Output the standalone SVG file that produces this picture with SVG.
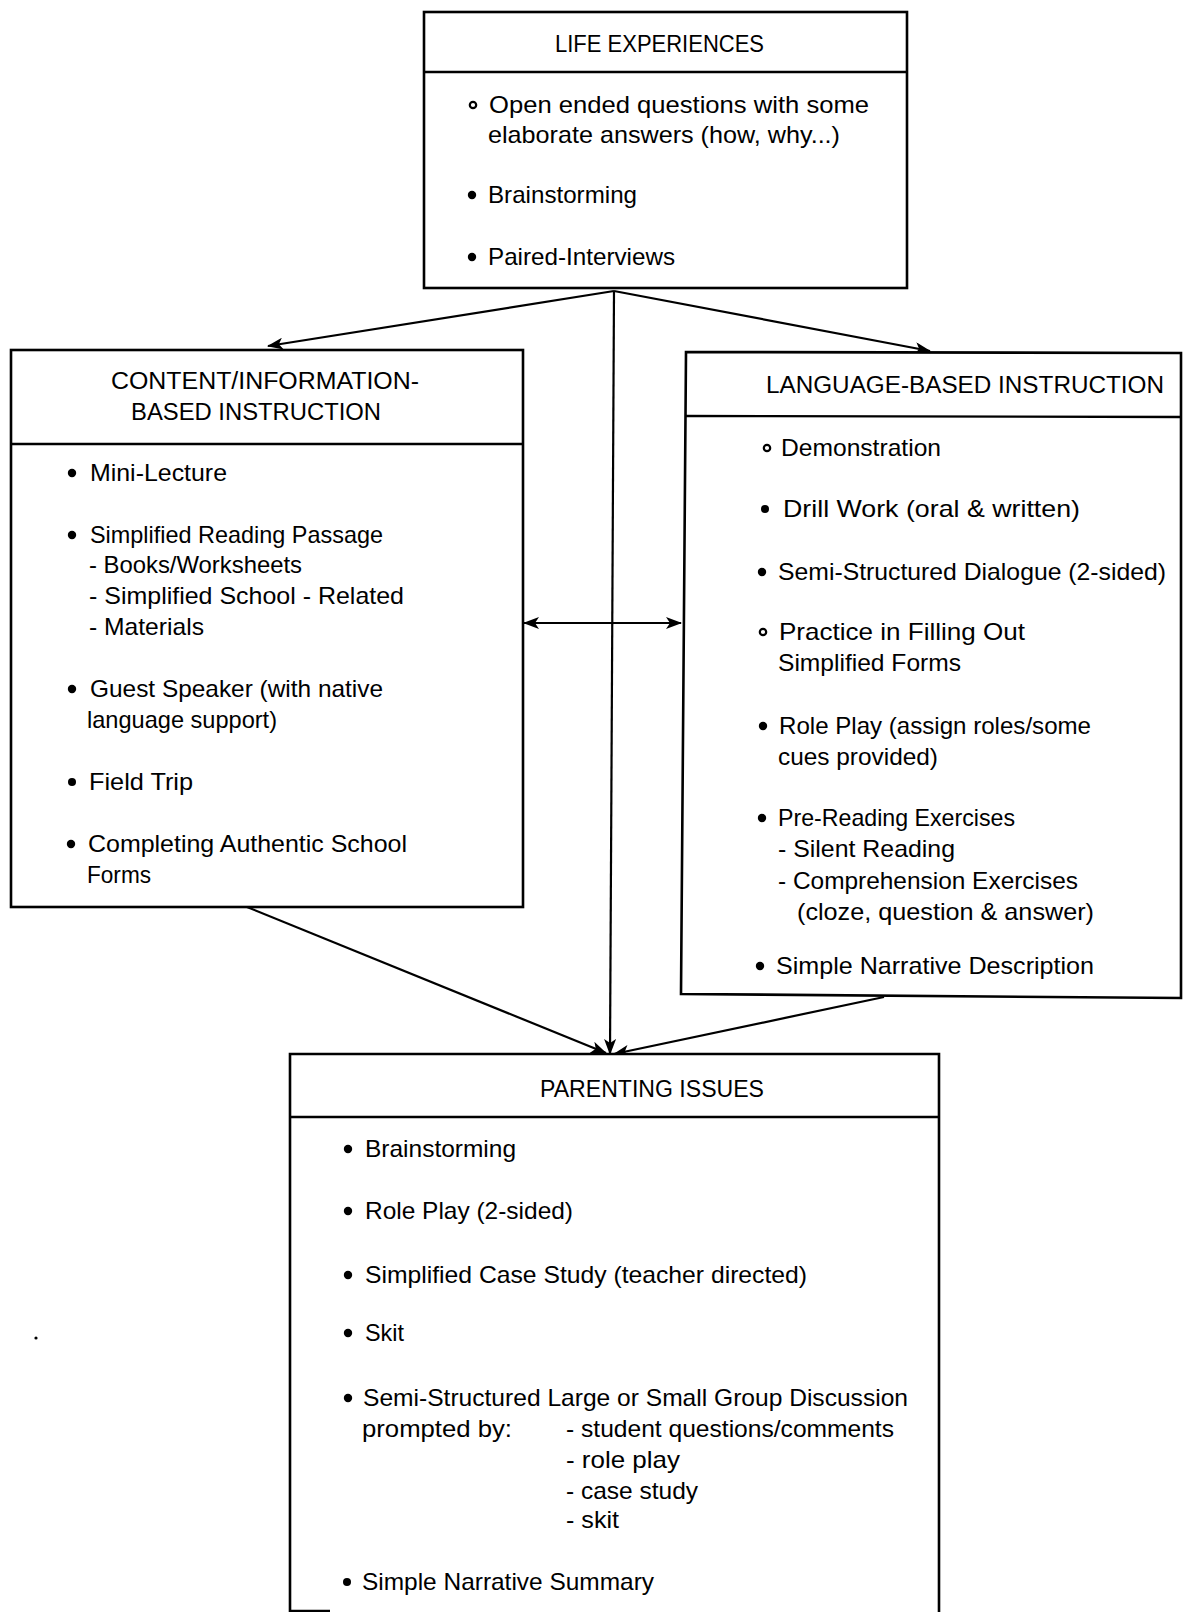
<svg xmlns="http://www.w3.org/2000/svg" width="1184" height="1612" viewBox="0 0 1184 1612">
<defs>
<marker id="ah" markerUnits="userSpaceOnUse" markerWidth="16" markerHeight="12" refX="15" refY="6" orient="auto-start-reverse">
<path d="M0,0 L16,6 L0,12 L4,6 z" fill="#000"/>
</marker>
<style>
.box{fill:#fff;stroke:#000;stroke-width:2.6}
.div{stroke:#000;stroke-width:2.4;fill:none}
.t{font-family:"Liberation Sans",Arial,sans-serif;font-size:24px;fill:#000}
.h{font-family:"Liberation Sans",Arial,sans-serif;font-size:23px;fill:#000}
.b{fill:#000}
.r{fill:none;stroke:#000;stroke-width:2.2}
.conn{stroke:#000;stroke-width:2.2;fill:none}
</style>
</defs>
<rect width="1184" height="1612" fill="#fff"/>

<g id="connectors">
<path class="conn" d="M614,291 L268,346" marker-end="url(#ah)"/>
<path class="conn" d="M614,291 L930,351" marker-end="url(#ah)"/>
<path class="conn" d="M614,291 L610,1054" marker-end="url(#ah)"/>
<path class="conn" d="M247,907 L606,1053" marker-end="url(#ah)"/>
<path class="conn" d="M884,997 L614,1054" marker-end="url(#ah)"/>
<path class="conn" d="M524,623 L681,623" marker-start="url(#ah)" marker-end="url(#ah)"/>
</g>

<g id="life-experiences">
<rect class="box" x="424" y="12" width="483" height="276"/>
<line class="div" x1="424" y1="72" x2="907" y2="72"/>
<text class="h" x="555" y="52" textLength="209" lengthAdjust="spacingAndGlyphs">LIFE EXPERIENCES</text>
<circle class="r" cx="473" cy="105" r="3.2"/>
<text class="t" x="489" y="113" textLength="380" lengthAdjust="spacingAndGlyphs">Open ended questions with some</text>
<text class="t" x="488" y="143" textLength="352" lengthAdjust="spacingAndGlyphs">elaborate answers (how, why...)</text>
<circle class="b" cx="472" cy="195" r="4.2"/>
<text class="t" x="488" y="203" textLength="149" lengthAdjust="spacingAndGlyphs">Brainstorming</text>
<circle class="b" cx="472" cy="257" r="4.2"/>
<text class="t" x="488" y="265" textLength="187" lengthAdjust="spacingAndGlyphs">Paired-Interviews</text>
</g>

<g id="content-information">
<rect class="box" x="11" y="350" width="512" height="557"/>
<line class="div" x1="11" y1="444" x2="523" y2="444"/>
<text class="h" x="111" y="389" textLength="308" lengthAdjust="spacingAndGlyphs">CONTENT/INFORMATION-</text>
<text class="h" x="131" y="420" textLength="250" lengthAdjust="spacingAndGlyphs">BASED INSTRUCTION</text>
<circle class="b" cx="72" cy="473" r="4.2"/>
<text class="t" x="90" y="481" textLength="137" lengthAdjust="spacingAndGlyphs">Mini-Lecture</text>
<circle class="b" cx="72" cy="535" r="4.2"/>
<text class="t" x="90" y="543" textLength="293" lengthAdjust="spacingAndGlyphs">Simplified Reading Passage</text>
<text class="t" x="89" y="573" textLength="213" lengthAdjust="spacingAndGlyphs">- Books/Worksheets</text>
<text class="t" x="89" y="604" textLength="315" lengthAdjust="spacingAndGlyphs">- Simplified School - Related</text>
<text class="t" x="89" y="635" textLength="115" lengthAdjust="spacingAndGlyphs">- Materials</text>
<circle class="b" cx="72" cy="689" r="4.2"/>
<text class="t" x="90" y="697" textLength="293" lengthAdjust="spacingAndGlyphs">Guest Speaker (with native</text>
<text class="t" x="87" y="728" textLength="190" lengthAdjust="spacingAndGlyphs">language support)</text>
<circle class="b" cx="72" cy="782" r="4"/>
<text class="t" x="89" y="790" textLength="104" lengthAdjust="spacingAndGlyphs">Field Trip</text>
<circle class="b" cx="71" cy="844" r="4.2"/>
<text class="t" x="88" y="852" textLength="319" lengthAdjust="spacingAndGlyphs">Completing Authentic School</text>
<text class="t" x="87" y="883" textLength="64" lengthAdjust="spacingAndGlyphs">Forms</text>
</g>

<g id="language-based">
<path class="box" d="M686,352 L1181,353 L1181,998 L681,994 Z"/>
<line class="div" x1="685" y1="416" x2="1181" y2="417"/>
<text class="h" x="766" y="393" textLength="398" lengthAdjust="spacingAndGlyphs">LANGUAGE-BASED INSTRUCTION</text>
<circle class="r" cx="767" cy="448" r="3.2"/>
<text class="t" x="781" y="456" textLength="160" lengthAdjust="spacingAndGlyphs">Demonstration</text>
<circle class="b" cx="765" cy="509" r="4"/>
<text class="t" x="783" y="517" textLength="297" lengthAdjust="spacingAndGlyphs">Drill Work (oral &amp; written)</text>
<circle class="b" cx="762" cy="572" r="4.2"/>
<text class="t" x="778" y="580" textLength="388" lengthAdjust="spacingAndGlyphs">Semi-Structured Dialogue (2-sided)</text>
<circle class="r" cx="763" cy="632" r="3.2"/>
<text class="t" x="779" y="640" textLength="246" lengthAdjust="spacingAndGlyphs">Practice in Filling Out</text>
<text class="t" x="778" y="671" textLength="183" lengthAdjust="spacingAndGlyphs">Simplified Forms</text>
<circle class="b" cx="763" cy="726" r="4.2"/>
<text class="t" x="779" y="734" textLength="312" lengthAdjust="spacingAndGlyphs">Role Play (assign roles/some</text>
<text class="t" x="778" y="765" textLength="160" lengthAdjust="spacingAndGlyphs">cues provided)</text>
<circle class="b" cx="762" cy="818" r="4.2"/>
<text class="t" x="778" y="826" textLength="237" lengthAdjust="spacingAndGlyphs">Pre-Reading Exercises</text>
<text class="t" x="778" y="857" textLength="177" lengthAdjust="spacingAndGlyphs">- Silent Reading</text>
<text class="t" x="778" y="889" textLength="300" lengthAdjust="spacingAndGlyphs">- Comprehension Exercises</text>
<text class="t" x="797" y="920" textLength="297" lengthAdjust="spacingAndGlyphs">(cloze, question &amp; answer)</text>
<circle class="b" cx="760" cy="966" r="4.2"/>
<text class="t" x="776" y="974" textLength="318" lengthAdjust="spacingAndGlyphs">Simple Narrative Description</text>
</g>

<g id="parenting-issues">
<path class="box" d="M290,1616 L290,1054 L939,1054 L939,1616"/>
<line class="div" x1="290" y1="1611" x2="330" y2="1611"/>
<line class="div" x1="290" y1="1117" x2="939" y2="1117"/>
<text class="h" x="540" y="1097" textLength="224" lengthAdjust="spacingAndGlyphs">PARENTING ISSUES</text>
<circle class="b" cx="348" cy="1149" r="4.2"/>
<text class="t" x="365" y="1157" textLength="151" lengthAdjust="spacingAndGlyphs">Brainstorming</text>
<circle class="b" cx="348" cy="1211" r="4.2"/>
<text class="t" x="365" y="1219" textLength="208" lengthAdjust="spacingAndGlyphs">Role Play (2-sided)</text>
<circle class="b" cx="348" cy="1275" r="4.2"/>
<text class="t" x="365" y="1283" textLength="442" lengthAdjust="spacingAndGlyphs">Simplified Case Study (teacher directed)</text>
<circle class="b" cx="348" cy="1333" r="4.2"/>
<text class="t" x="365" y="1341" textLength="39" lengthAdjust="spacingAndGlyphs">Skit</text>
<circle class="b" cx="348" cy="1398" r="4.2"/>
<text class="t" x="363" y="1406" textLength="545" lengthAdjust="spacingAndGlyphs">Semi-Structured Large or Small Group Discussion</text>
<text class="t" x="362" y="1437" textLength="150" lengthAdjust="spacingAndGlyphs">prompted by:</text>
<text class="t" x="566" y="1437" textLength="328" lengthAdjust="spacingAndGlyphs">- student questions/comments</text>
<text class="t" x="566" y="1468" textLength="114" lengthAdjust="spacingAndGlyphs">- role play</text>
<text class="t" x="566" y="1499" textLength="132" lengthAdjust="spacingAndGlyphs">- case study</text>
<text class="t" x="566" y="1528" textLength="53" lengthAdjust="spacingAndGlyphs">- skit</text>
<circle class="b" cx="347" cy="1582" r="4"/>
<text class="t" x="362" y="1590" textLength="292" lengthAdjust="spacingAndGlyphs">Simple Narrative Summary</text>
</g>

<circle cx="36" cy="1338" r="1.6" fill="#000"/>
</svg>
